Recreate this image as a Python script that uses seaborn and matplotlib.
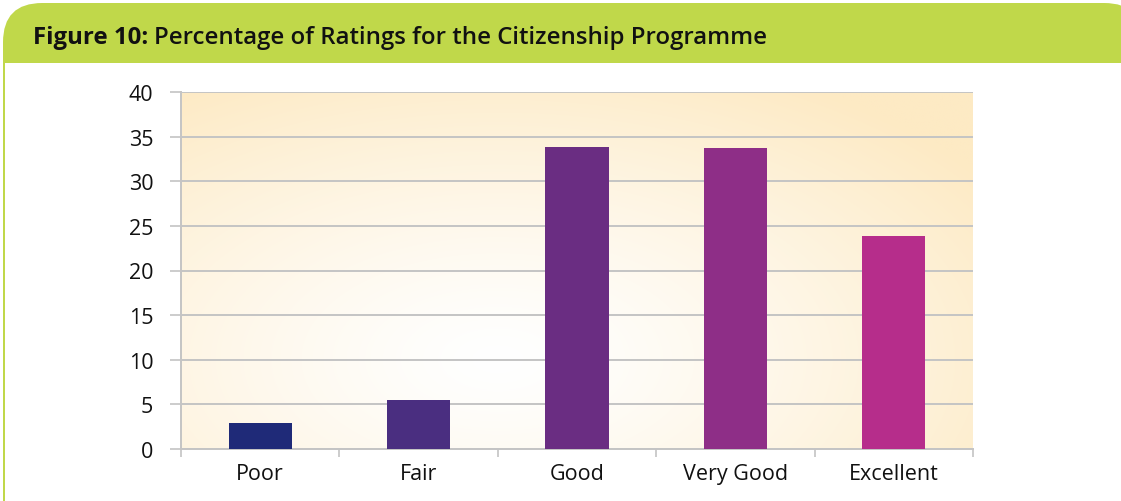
import matplotlib
matplotlib.use("Agg")
import matplotlib.pyplot as plt
from matplotlib.patches import FancyBboxPatch, Rectangle
import seaborn as sns
import numpy as np
import pandas as pd

# data
ratings = ["Poor", "Fair", "Good", "Very Good", "Excellent"]
percentages = [2.9, 5.5, 33.8, 33.7, 23.9]
bar_colors = ["#1f2a78", "#4a2e80", "#6a2d82", "#8e2e87", "#b62d8b"]
y_ticks = [0, 5, 10, 15, 20, 25, 30, 35, 40]

df = pd.DataFrame({"rating": ratings, "pct": percentages})

sns.set_theme(style="white")
plt.rcParams["font.family"] = ["Open Sans", "DejaVu Sans"]

W, H = 1121, 502
fig = plt.figure(figsize=(W / 100, H / 100), dpi=100)
fig.patch.set_facecolor("white")

green = "#c0d84a"

# header band with rounded top corners
hdr = FancyBboxPatch((3 / W, 1 - 140 / H), (W - 3) / W + 0.02, 136 / H,
                     boxstyle="round,pad=0,rounding_size=0.035",
                     transform=fig.transFigure, facecolor=green,
                     edgecolor="none", zorder=0, mutation_aspect=W / H)
fig.patches.append(hdr)
fig.patches.append(Rectangle((4 / W, 0), 1, 1 - 64 / H, transform=fig.transFigure,
                             facecolor="white", edgecolor="none", zorder=1))
fig.patches.append(Rectangle((3 / W, 0), 1.5 / W, 1 - 60 / H, transform=fig.transFigure,
                             facecolor=green, edgecolor="none", zorder=2))

t1 = fig.text(33 / W, 1 - 38 / H, "Figure 10:", fontsize=17.3, fontweight="bold",
              va="center", ha="left", color="#111111", zorder=5)
fig.canvas.draw()
fig.text(t1.get_window_extent().x1 / W + 6 / W, 1 - 38 / H,
         "Percentage of Ratings for the Citizenship Programme",
         fontsize=17.3, fontweight="semibold", va="center", ha="left",
         color="#111111", zorder=5)

ax = fig.add_axes([181 / W, 52 / H, (973 - 181) / W, (450 - 93) / H])
ax.set_zorder(3)

# soft radial background
nx, ny = 400, 200
gx, gy = np.meshgrid(np.linspace(0, 1, nx), np.linspace(0, 1, ny))
d = np.sqrt(((gx - 0.40) / 0.75) ** 2 + ((gy - 0.25) / 0.9) ** 2)
t = np.clip(d, 0, 1) ** 1.3
white = np.array([1.0, 1.0, 1.0])
edge = np.array([253, 234, 196]) / 255
img = white[None, None, :] * (1 - t[..., None]) + edge[None, None, :] * t[..., None]
ax.imshow(img, extent=(-0.5, 4.5, 40, 0), aspect="auto", zorder=0,
          interpolation="bilinear")

sns.barplot(data=df, x="rating", y="pct", hue="rating", palette=bar_colors,
            width=0.4, legend=False, saturation=1, linewidth=0, ax=ax, zorder=3)

ax.set_xlim(-0.5, 4.5)
ax.set_ylim(0, 40)
ax.set_yticks(y_ticks)
ax.set_xlabel("")
ax.set_ylabel("")
ax.yaxis.grid(True, color="#c4c4c4", linewidth=1.4, zorder=1)
ax.set_axisbelow(True)

for s in ["top", "right"]:
    ax.spines[s].set_visible(False)
for s in ["left", "bottom"]:
    ax.spines[s].set_color("#c4c4c4")
    ax.spines[s].set_linewidth(1.4)

ax.set_xticks(np.arange(-0.5, 5, 1), minor=True)
ax.tick_params(axis="x", which="major", length=0, labelsize=15.5, pad=10, colors="#111111")
ax.tick_params(axis="x", which="minor", length=6, width=1.2, color="#c4c4c4", bottom=True)
ax.tick_params(axis="y", length=8, width=1.2, color="#c4c4c4", labelsize=15.5,
               pad=12, left=True, labelcolor="#111111")

fig.savefig("out.png", dpi=100)
